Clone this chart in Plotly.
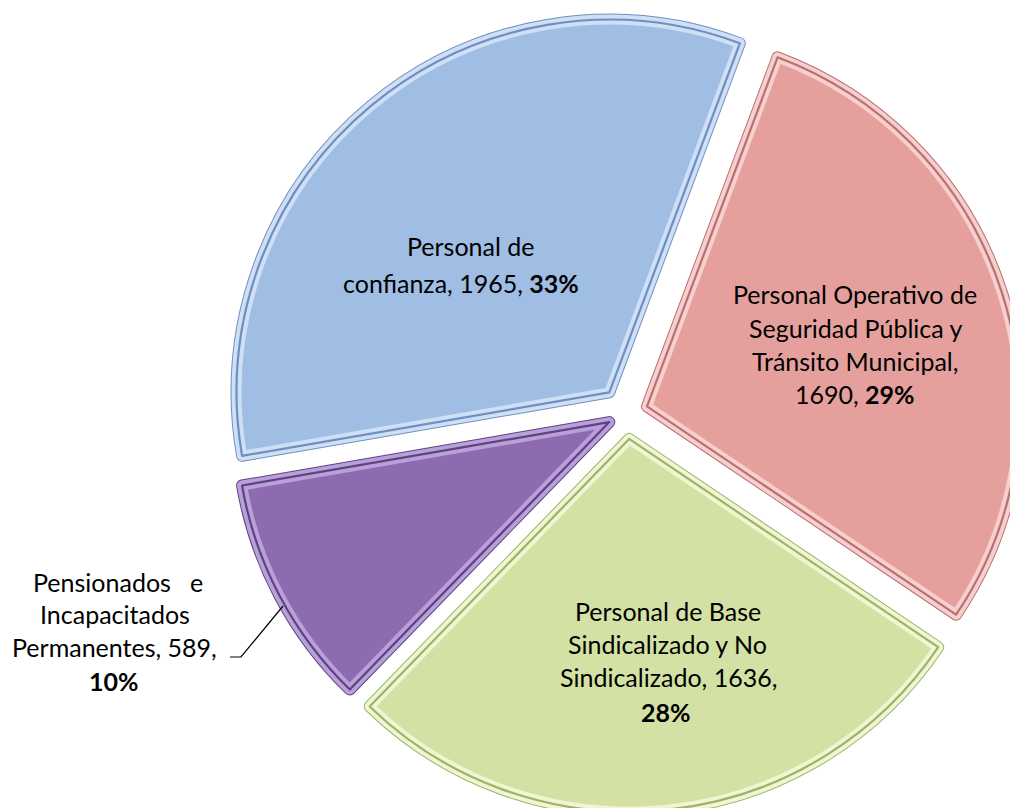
import plotly.graph_objects as go

# ---------------- data ----------------
categories = [
    "Personal Operativo de Seguridad Pública y Tránsito Municipal",
    "Personal de Base Sindicalizado y No Sindicalizado",
    "Pensionados e Incapacitados Permanentes",
    "Personal de confianza",
]
values = [1690, 1636, 589, 1965]
percents = ["29%", "28%", "10%", "33%"]
label_lines = [
    ["Personal Operativo de", "Seguridad Pública y", "Tránsito Municipal,"],
    ["Personal de Base", "Sindicalizado y No", "Sindicalizado, 1636,"],
    ["Pensionados\u00a0\u00a0\u00a0e", "Incapacitados", "Permanentes, 589,"],
    ["Personal de"],
]

# ---------------- style ----------------
W, H = 1018, 808
fill_colors = ["#E5A09E", "#D3E2A4", "#8C6BAE", "#A0BDE4"]
light_colors = ["#F6CFCE", "#EEF6D2", "#B9A0DA", "#CFE0F6"]
dark_colors = ["#B8716E", "#9FB26A", "#5E437F", "#6F8FC0"]
pulls = [0.058, 0.070, 0.052, 0.072]

dom = dict(x=[0.215, 1.0], y=[0.0043, 0.9932])

fig = go.Figure()
common = dict(labels=categories, values=values, sort=False, direction="clockwise",
              rotation=20.5, pull=pulls, textinfo="none", hoverinfo="label+value+percent",
              showlegend=False, domain=dom)
fig.add_trace(go.Pie(marker=dict(colors=fill_colors, line=dict(color=dark_colors, width=12)), **common))
fig.add_trace(go.Pie(marker=dict(colors=fill_colors, line=dict(color=light_colors, width=10)), **common))
fig.add_trace(go.Pie(marker=dict(colors=["rgba(0,0,0,0)"] * 4, line=dict(color=dark_colors, width=2.2)), **common))

# label text lines (data text) with pixel positions (layout)
texts = []
for i, lines in enumerate(label_lines):
    t = list(lines)
    if i == 3:
        t.append(f"confianza, {values[i]}, <b>{percents[i]}</b>")
    elif i == 0:
        t.append(f"{values[i]}, <b>{percents[i]}</b>")
    else:
        t.append(f"<b>{percents[i]}</b>")
    texts.append(t)

positions = [
    [(847, 286), (847, 320), (847, 353), (847, 386)],
    [(660, 603), (659, 636), (660, 669), (658, 704)],
    [(110, 574), (107, 606), (106, 639), (106, 673)],
    [(462, 238), (453, 275)],
]

annotations = []
for t, pos in zip(texts, positions):
    for line, (px, py) in zip(t, pos):
        annotations.append(dict(
            x=px / W, y=1 - py / H, xref="paper", yref="paper",
            text=line, showarrow=False, xanchor="center", yanchor="middle",
            font=dict(family="Lato", size=25, color="#000000"),
        ))

# leader line for the outside label
pts = [(222, 649), (233, 649), (275, 598)]
path = "M " + " L ".join(f"{x / W:.5f},{1 - y / H:.5f}" for x, y in pts)

fig.update_layout(
    width=W, height=H,
    margin=dict(l=0, r=0, t=0, b=0),
    paper_bgcolor="white", plot_bgcolor="white",
    annotations=annotations,
    shapes=[dict(type="path", path=path, xref="paper", yref="paper",
                 line=dict(color="#000000", width=1.2))],
)

fig.write_html("out.html")
